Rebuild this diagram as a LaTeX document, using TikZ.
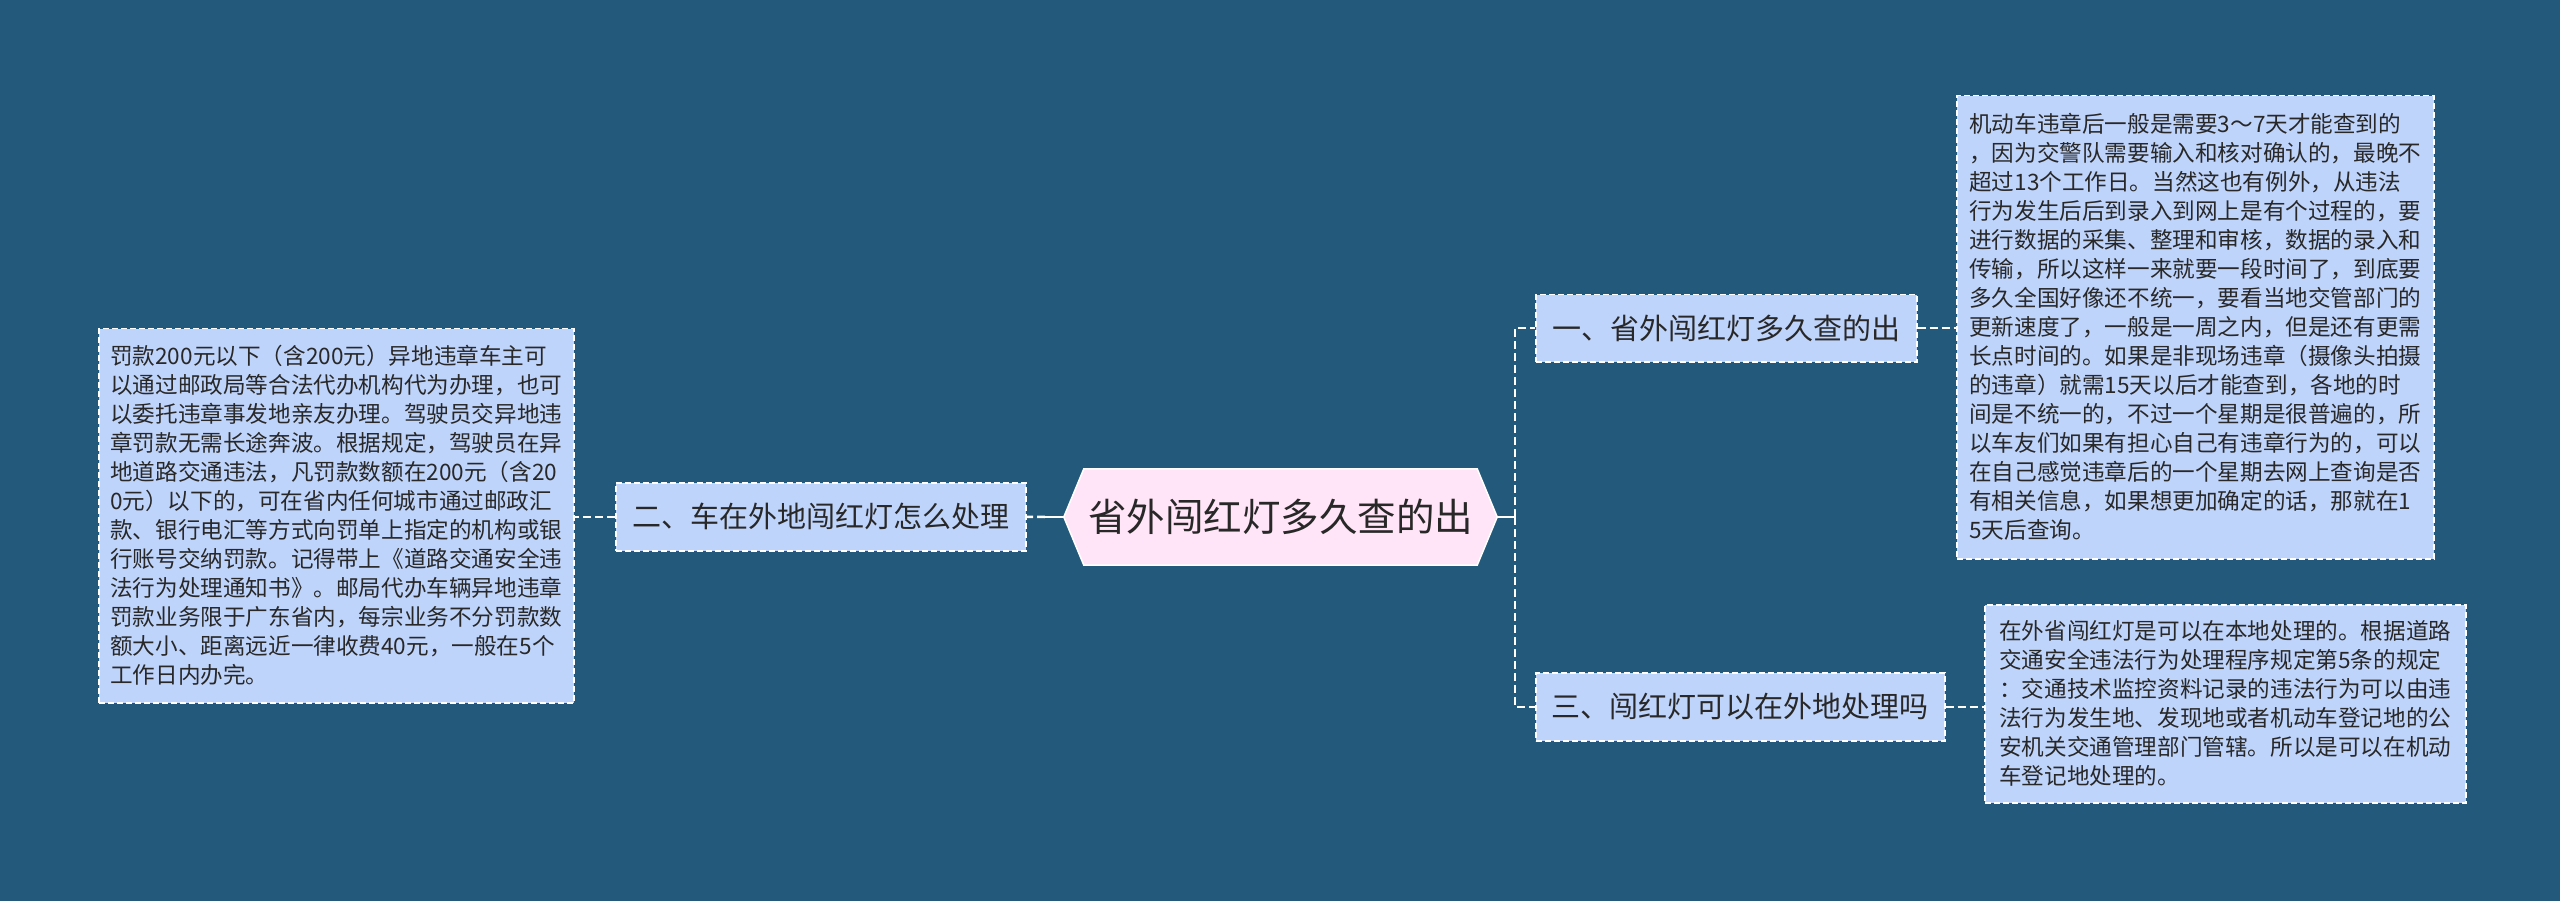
\documentclass[tikz,border=0pt]{standalone}
\usepackage{fontspec}
\setmainfont{Noto Sans CJK SC}
\usetikzlibrary{calc}
\definecolor{bg}{RGB}{35,89,122}
\definecolor{boxfill}{RGB}{191,212,251}
\definecolor{rootfill}{RGB}{255,229,247}
\definecolor{txt}{RGB}{40,40,40}
\tikzset{
  detail/.style={draw=white, dash pattern=on 6pt off 3pt, line width=1.5pt, fill=boxfill, text=txt,
    align=left, anchor=north west, inner sep=0pt, font=\fontsize{22.6}{29}\selectfont},
  branch/.style={draw=white, dash pattern=on 6pt off 3pt, line width=1.5pt, fill=boxfill, text=txt,
    anchor=north west, inner sep=0pt, font=\fontsize{29}{34}\selectfont},
  link/.style={draw=white, line width=2.5pt, dash pattern=on 8pt off 4pt},
  solidlink/.style={draw=white, line width=2.5pt},
  rootshape/.style={fill=rootfill, draw=white, line width=1.5pt}
}
\begin{document}
\begin{tikzpicture}[x=1pt,y=-1pt]
\useasboundingbox (0,0) rectangle (2560,901);
\fill[bg] (0,0) rectangle (2560,901);

% root
\node[minimum width=433pt, minimum height=96pt, inner sep=0pt] (c) at (1280.5,517) {};
\path[rootshape] (c.west) -- ($(c.north west)+(20pt,0)$) -- ($(c.north east)+(-20pt,0)$) -- (c.east)
  -- ($(c.south east)+(-20pt,0)$) -- ($(c.south west)+(20pt,0)$) -- cycle;
\node[text=txt, font=\fontsize{38.5}{44}\selectfont, inner sep=0pt] (ct) at (c.center) {省外闯红灯多久查的出};

% branches
\node[branch, minimum width=410pt, minimum height=68pt] (b2) at (615,482) {二、车在外地闯红灯怎么处理};
\node[branch, minimum width=381pt, minimum height=67pt] (b1) at (1535,294) {一、省外闯红灯多久查的出};
\node[branch, minimum width=409pt, minimum height=68pt] (b3) at (1535,672) {三、闯红灯可以在外地处理吗};

% details
\node[detail, minimum width=475pt, minimum height=374pt] (d2) at (98,328) {罚款200元以下（含200元）异地违章车主可\\
以通过邮政局等合法代办机构代为办理，也可\\
以委托违章事发地亲友办理。驾驶员交异地违\\
章罚款无需长途奔波。根据规定，驾驶员在异\\
地道路交通违法，凡罚款数额在200元（含20\\
0元）以下的，可在省内任何城市通过邮政汇\\
款、银行电汇等方式向罚单上指定的机构或银\\
行账号交纳罚款。记得带上《道路交通安全违\\
法行为处理通知书》。邮局代办车辆异地违章\\
罚款业务限于广东省内，每宗业务不分罚款数\\
额大小、距离远近一律收费40元，一般在5个\\
工作日内办完。};

\node[detail, minimum width=477pt, minimum height=463pt] (d1) at (1956,95) {机动车违章后一般是需要3～7天才能查到的\\
，因为交警队需要输入和核对确认的，最晚不\\
超过13个工作日。当然这也有例外，从违法\\
行为发生后后到录入到网上是有个过程的，要\\
进行数据的采集、整理和审核，数据的录入和\\
传输，所以这样一来就要一段时间了，到底要\\
多久全国好像还不统一，要看当地交管部门的\\
更新速度了，一般是一周之内，但是还有更需\\
长点时间的。如果是非现场违章（摄像头拍摄\\
的违章）就需15天以后才能查到，各地的时\\
间是不统一的，不过一个星期是很普遍的，所\\
以车友们如果有担心自己有违章行为的，可以\\
在自己感觉违章后的一个星期去网上查询是否\\
有相关信息，如果想更加确定的话，那就在1\\
5天后查询。};

\node[detail, minimum width=481pt, minimum height=198pt] (d3) at (1984,604) {在外省闯红灯是可以在本地处理的。根据道路\\
交通安全违法行为处理程序规定第5条的规定\\
：交通技术监控资料记录的违法行为可以由违\\
法行为发生地、发现地或者机动车登记地的公\\
安机关交通管理部门管辖。所以是可以在机动\\
车登记地处理的。};

% connectors
\coordinate (rj) at (1515,517);
\coordinate (lj) at (1045,517);
\draw[solidlink] (c.east) -- (rj);
\draw[link] (rj) |- (b1.west);
\draw[link] (rj) |- (b3.west);
\draw[link] (b1.east) -- (b1.east -| d1.west);
\draw[link] (b3.east) -- (b3.east -| d3.west);
\draw[solidlink] (c.west) -- (lj);
\draw[link] (lj) -- (b2.east);
\draw[link] (b2.west) -- (b2.west -| d2.east);
\end{tikzpicture}
\end{document}
